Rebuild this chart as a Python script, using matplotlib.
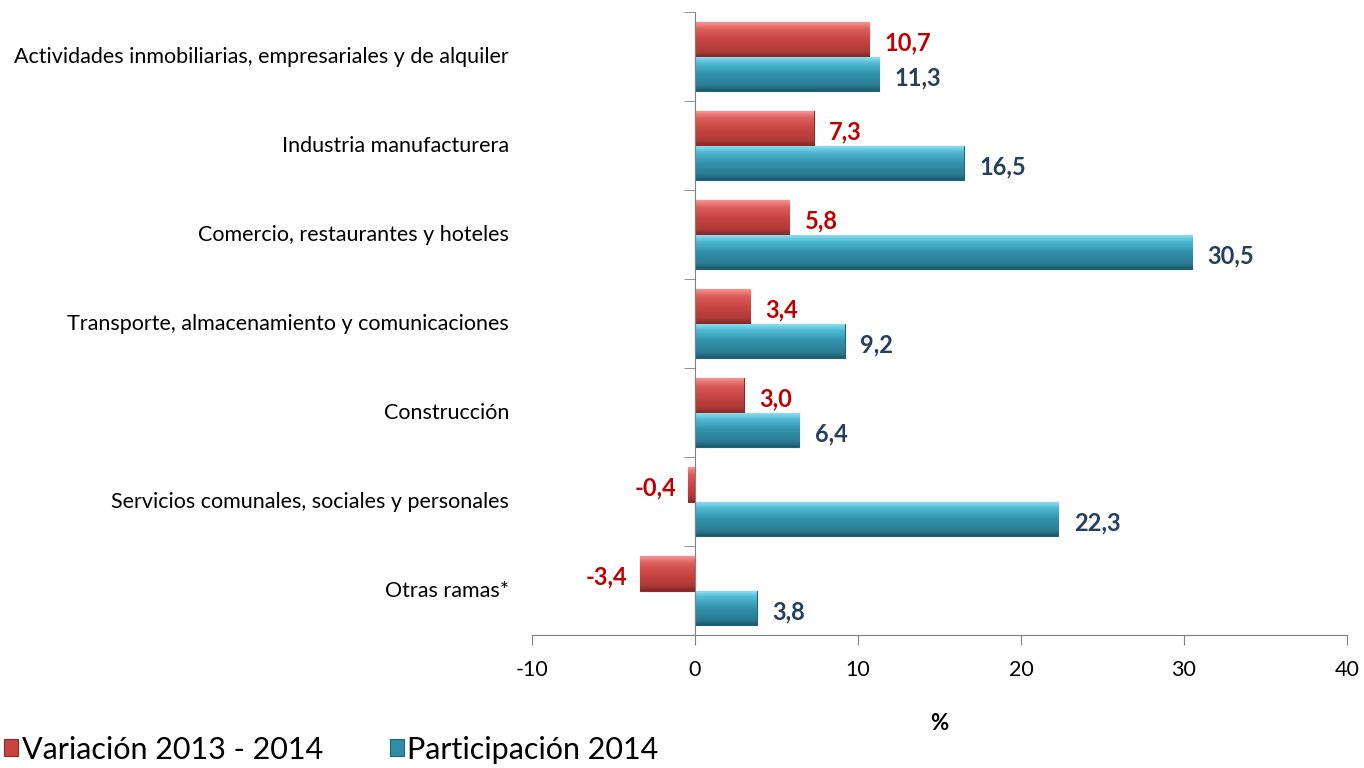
import matplotlib.pyplot as plt
import matplotlib.transforms as mtransforms
from matplotlib.colors import LinearSegmentedColormap
import numpy as np

categorias = [
    "Actividades inmobiliarias, empresariales y de alquiler",
    "Industria manufacturera",
    "Comercio, restaurantes y hoteles",
    "Transporte, almacenamiento y comunicaciones",
    "Construcción",
    "Servicios comunales, sociales y personales",
    "Otras ramas*",
]
variacion = [10.7, 7.3, 5.8, 3.4, 3.0, -0.4, -3.4]
participacion = [11.3, 16.5, 30.5, 9.2, 6.4, 22.3, 3.8]
serie_nombres = ["Variación 2013 - 2014", "Participación 2014"]
xticks = [-10, 0, 10, 20, 30, 40]

plt.rcParams['font.family'] = ['Lato', 'DejaVu Sans']

fig = plt.figure(figsize=(13.64, 7.68), dpi=100)
ax = fig.add_axes([0.39, 0.173, 0.5975, 0.811])

y = np.arange(len(categorias))
h = 0.39
rojo = "#C94341"
azul = "#2F8CA6"
b1 = ax.barh(y - h / 2, variacion, height=h, color=rojo, edgecolor="#8E2B2A",
             linewidth=0.8, label=serie_nombres[0], zorder=2)
b2 = ax.barh(y + h / 2, participacion, height=h, color=azul, edgecolor="#1F6478",
             linewidth=0.8, label=serie_nombres[1], zorder=2)

# efecto de relieve en las barras
cm_rojo = LinearSegmentedColormap.from_list(
    "r", [(0, "#F39490"), (0.2, "#DC5E5B"), (0.5, "#C94644"), (0.85, "#AE3937"), (1, "#832826")])
cm_azul = LinearSegmentedColormap.from_list(
    "b", [(0, "#97E2F3"), (0.2, "#50B9D2"), (0.5, "#3393AD"), (0.85, "#2A7C93"), (1, "#1C5A6B")])
grad = np.linspace(0, 1, 64).reshape(-1, 1)
for bars, cm in [(b1, cm_rojo), (b2, cm_azul)]:
    for bar in bars:
        x0, y0 = bar.get_x(), bar.get_y()
        w, hh = bar.get_width(), bar.get_height()
        im = ax.imshow(grad, extent=[x0, x0 + w, y0 + hh, y0], origin="upper",
                       aspect="auto", cmap=cm, zorder=2.1, interpolation="bilinear")
        im.set_clip_path(bar)

# etiquetas de valores
for bars, vals, col in [(b1, variacion, "#C00000"), (b2, participacion, "#243F60")]:
    for bar, v in zip(bars, vals):
        yc = bar.get_y() + bar.get_height() / 2 + 0.04
        txt = f"{v:.1f}".replace(".", ",")
        if v >= 0:
            ax.annotate(txt, (v, yc), xytext=(11, 0), textcoords="offset points",
                        ha="left", va="center", color=col, fontsize=17, fontweight="bold")
        else:
            ax.annotate(txt, (v, yc), xytext=(-9, 0), textcoords="offset points",
                        ha="right", va="center", color=col, fontsize=17, fontweight="bold")

ax.set_xlim(-10, 40)
ax.set_ylim(len(categorias) - 0.5, -0.5)
ax.set_xticks(xticks)
ax.set_xticklabels([str(t) for t in xticks], fontsize=15.5)
ax.tick_params(axis="x", length=7, color="#808080", pad=11)

for s in ["top", "right"]:
    ax.spines[s].set_visible(False)
ax.spines["left"].set_position(("data", 0))
ax.spines["left"].set_color("#808080")
ax.spines["bottom"].set_color("#808080")

ax.set_yticks(y)
ax.set_yticklabels([])
ax.tick_params(axis="y", which="major", length=0)
ax.set_yticks(np.arange(len(categorias) + 1) - 0.5, minor=True)
ax.tick_params(axis="y", which="minor", length=8, color="#808080", direction="out")

trans = mtransforms.blended_transform_factory(ax.transAxes, ax.transData)
for yi, cat in zip(y, categorias):
    ax.text(-0.028, yi, cat, transform=trans, ha="right", va="center", fontsize=15.5)

ax.set_xlabel("%", fontsize=16, fontweight="bold", labelpad=24)

fig.legend(handles=[b1, b2], labels=serie_nombres, loc="lower left",
           bbox_to_anchor=(-0.017, -0.03), ncol=2, frameon=False,
           fontsize=22, handlelength=0.45, handleheight=0.5, handletextpad=0.12,
           columnspacing=2.2)

fig.savefig("out.png", dpi=100)
